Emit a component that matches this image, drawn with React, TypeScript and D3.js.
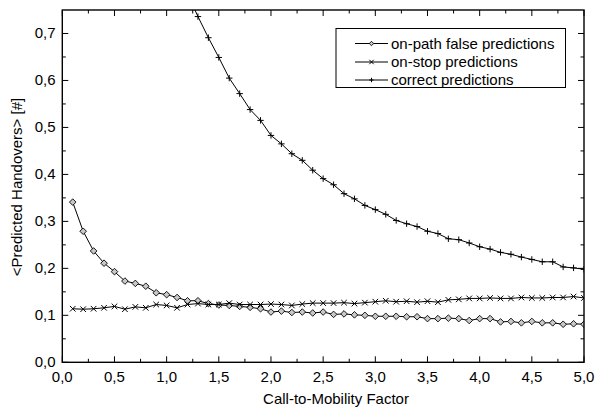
import React, { useEffect, useRef } from "react";
import * as d3 from "d3";

const xValues = [0.1,0.2,0.3,0.4,0.5,0.6,0.7,0.8,0.9,1.0,1.1,1.2,1.3,1.4,1.5,1.6,1.7,1.8,1.9,2.0,2.1,2.2,2.3,2.4,2.5,2.6,2.7,2.8,2.9,3.0,3.1,3.2,3.3,3.4,3.5,3.6,3.7,3.8,3.9,4.0,4.1,4.2,4.3,4.4,4.5,4.6,4.7,4.8,4.9,5.0];

const onPathFalse = [0.341,0.279,0.237,0.211,0.193,0.173,0.168,0.162,0.148,0.144,0.138,0.131,0.131,0.125,0.122,0.121,0.119,0.117,0.114,0.107,0.109,0.106,0.107,0.105,0.107,0.102,0.103,0.101,0.100,0.098,0.098,0.098,0.097,0.097,0.093,0.093,0.094,0.093,0.089,0.093,0.093,0.086,0.087,0.084,0.087,0.084,0.084,0.081,0.082,0.081];

const onStop = [0.114,0.113,0.114,0.116,0.119,0.113,0.118,0.116,0.123,0.121,0.116,0.123,0.125,0.123,0.123,0.126,0.123,0.123,0.123,0.124,0.123,0.121,0.124,0.126,0.126,0.126,0.127,0.125,0.127,0.129,0.131,0.129,0.130,0.128,0.130,0.128,0.133,0.134,0.136,0.136,0.137,0.136,0.136,0.138,0.137,0.137,0.138,0.138,0.140,0.137];

const correct: (number | null)[] = [null,null,null,null,null,null,null,null,null,null,null,0.785,0.736,0.691,0.649,0.605,0.572,0.538,0.515,0.483,0.465,0.444,0.430,0.409,0.391,0.378,0.359,0.348,0.334,0.325,0.315,0.302,0.295,0.289,0.279,0.274,0.263,0.261,0.254,0.246,0.241,0.234,0.230,0.224,0.219,0.214,0.214,0.203,0.201,0.198];

const seriesNames = ["on-path false predictions", "on-stop predictions", "correct predictions"];
const xTickValues = [0,0.5,1,1.5,2,2.5,3,3.5,4,4.5,5];
const xMinorTicks = [0.25,0.75,1.25,1.75,2.25,2.75,3.25,3.75,4.25,4.75];
const yTickValues = [0,0.1,0.2,0.3,0.4,0.5,0.6,0.7];
const yMinorTicks = [0.05,0.15,0.25,0.35,0.45,0.55,0.65];
const xTitle = "Call-to-Mobility Factor";
const yTitle = "<Predicted Handovers> [#]";

const W = 595, H = 407;
const FONT = "'Liberation Sans', Arial, Helvetica, sans-serif";

export default function App() {
  const ref = useRef<SVGSVGElement | null>(null);
  useEffect(() => {
    const svg = d3.select(ref.current);
    svg.selectAll("*").remove();
    const x = d3.scaleLinear().domain([0, 5]).range([62.3, 584]);
    const y = d3.scaleLinear().domain([0, 0.75]).range([362.3, 10]);
    const [x0, x1] = x.range();
    const [y0, y1] = y.range();

    svg.append("defs").append("clipPath").attr("id", "plotclip")
      .append("rect").attr("x", x0).attr("y", y1).attr("width", x1 - x0).attr("height", y0 - y1);

    const fmt = (v: number) => d3.format(".1f")(v).replace(".", ",");

    const g = svg.append("g");
    const major = 6, minor = 3.5;
    const tk = g.append("g").attr("stroke", "#000").attr("stroke-width", 1);
    xTickValues.forEach(v => {
      tk.append("line").attr("x1", x(v)).attr("x2", x(v)).attr("y1", y0).attr("y2", y0 - major);
      tk.append("line").attr("x1", x(v)).attr("x2", x(v)).attr("y1", y1).attr("y2", y1 + major);
    });
    xMinorTicks.forEach(v => {
      tk.append("line").attr("x1", x(v)).attr("x2", x(v)).attr("y1", y0).attr("y2", y0 - minor);
      tk.append("line").attr("x1", x(v)).attr("x2", x(v)).attr("y1", y1).attr("y2", y1 + minor);
    });
    yTickValues.forEach(v => {
      tk.append("line").attr("x1", x0).attr("x2", x0 + major).attr("y1", y(v)).attr("y2", y(v));
      tk.append("line").attr("x1", x1).attr("x2", x1 - major).attr("y1", y(v)).attr("y2", y(v));
    });
    yMinorTicks.forEach(v => {
      tk.append("line").attr("x1", x0).attr("x2", x0 + minor).attr("y1", y(v)).attr("y2", y(v));
      tk.append("line").attr("x1", x1).attr("x2", x1 - minor).attr("y1", y(v)).attr("y2", y(v));
    });

    const TICKFS = 15;
    xTickValues.forEach(v => {
      g.append("text").attr("x", x(v)).attr("y", 382).attr("text-anchor", "middle")
        .attr("font-family", FONT).attr("font-size", TICKFS).attr("fill", "#000").text(fmt(v));
    });
    yTickValues.forEach(v => {
      g.append("text").attr("x", 55.5).attr("y", y(v) + 4.5).attr("text-anchor", "end")
        .attr("font-family", FONT).attr("font-size", TICKFS).attr("fill", "#000").text(fmt(v));
    });

    g.append("text").attr("x", 336).attr("y", 404).attr("text-anchor", "middle")
      .attr("font-family", FONT).attr("font-size", 15).attr("fill", "#000").text(xTitle);
    g.append("text").attr("transform", `translate(22,187) rotate(-90)`)
      .attr("text-anchor", "middle").attr("font-family", FONT).attr("font-size", 15)
      .attr("fill", "#000").text(yTitle);

    const plot = g.append("g").attr("clip-path", "url(#plotclip)");
    const line = d3.line<[number, number | null]>()
      .defined(d => d[1] !== null)
      .x(d => x(d[0]))
      .y(d => y(d[1] as number));

    const drawDiamond = (sel: any, cx: number, cy: number, r: number) =>
      sel.append("path").attr("d", `M${cx},${cy - r}L${cx + r},${cy}L${cx},${cy + r}L${cx - r},${cy}Z`)
        .attr("fill", "#c8c8c8").attr("stroke", "#000").attr("stroke-width", 0.9);
    const drawCross = (sel: any, cx: number, cy: number, r: number) =>
      sel.append("path").attr("d", `M${cx - r},${cy - r}L${cx + r},${cy + r}M${cx - r},${cy + r}L${cx + r},${cy - r}`)
        .attr("fill", "none").attr("stroke", "#000").attr("stroke-width", 1);
    const drawPlus = (sel: any, cx: number, cy: number, r: number) =>
      sel.append("path").attr("d", `M${cx - r},${cy}L${cx + r},${cy}M${cx},${cy - r}L${cx},${cy + r}`)
        .attr("fill", "none").attr("stroke", "#000").attr("stroke-width", 1);

    const series: { vals: (number | null)[]; draw: any; r: number }[] = [
      { vals: onPathFalse, draw: drawDiamond, r: 3.3 },
      { vals: onStop, draw: drawCross, r: 2.8 },
      { vals: correct, draw: drawPlus, r: 3.2 },
    ];
    series.forEach(s => {
      const pts = xValues.map((xv, i) => [xv, s.vals[i]] as [number, number | null]);
      plot.append("path").attr("d", line(pts) as string).attr("fill", "none")
        .attr("stroke", "#000").attr("stroke-width", 1);
      pts.forEach(p => { if (p[1] !== null) s.draw(plot, x(p[0]), y(p[1] as number), s.r); });
    });

    g.append("rect").attr("x", x0).attr("y", y1).attr("width", x1 - x0).attr("height", y0 - y1)
      .attr("fill", "none").attr("stroke", "#000").attr("stroke-width", 1.4);

    const lg = g.append("g");
    lg.append("rect").attr("x", 336).attr("y", 28.5).attr("width", 229.5).attr("height", 59)
      .attr("fill", "#fff").attr("stroke", "#000").attr("stroke-width", 1);
    const rows = [43.5, 62, 80];
    seriesNames.forEach((name, i) => {
      const ry = rows[i];
      lg.append("line").attr("x1", 355).attr("x2", 388).attr("y1", ry).attr("y2", ry)
        .attr("stroke", "#000").attr("stroke-width", 1);
      series[i].draw(lg, 371.5, ry, 2.2);
      lg.append("text").attr("x", 391).attr("y", ry + 5).attr("font-family", FONT)
        .attr("font-size", 15).attr("fill", "#000").text(name);
    });
  }, []);

  return (
    <svg ref={ref} width={W} height={H}
      style={{ position: "absolute", left: 0, top: 0, background: "#fff" }} />
  );
}
